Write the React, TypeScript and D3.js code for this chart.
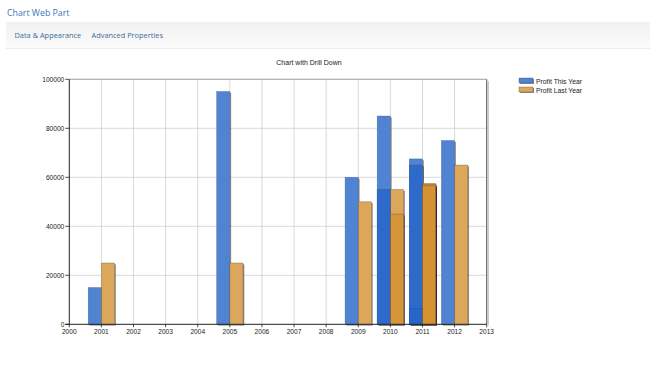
import React from "react";
import * as d3 from "d3";

const years = [2001, 2005, 2009, 2010, 2010, 2011, 2011, 2011, 2012];
const profitThisYear = [15000, 95000, 60000, 85000, 55000, 67500, 65000, 6500, 75000];
const profitLastYear = [25000, 25000, 50000, 55000, 45000, 57500, 57000, 56500, 65000];
const seriesNames = ["Profit This Year", "Profit Last Year"];
const xTicks = d3.range(2000, 2014);
const yTicks = [0, 20000, 40000, 60000, 80000, 100000];

const W = 650, H = 383;
const left = 69.3, right = 486.7, top = 79.3, bottom = 324.3;

export default function App() {
  const x = d3.scaleLinear().domain([2000, 2013]).range([left, right]);
  const y = d3.scaleLinear().domain([0, 100000]).range([bottom, top]);
  const step = x(2001) - x(2000);
  const bw = step * 0.41;
  const blue = "rgb(38,100,200)";
  const orange = "rgb(212,145,50)";
  const op = 0.8;
  const lab = { fontFamily: "'Liberation Sans', Arial, sans-serif", fontSize: 6.6, fill: "#222" };

  const bars: any[] = [];
  years.forEach((yr, i) => {
    [profitThisYear[i], profitLastYear[i]].forEach((v, s) => {
      const x0 = s === 0 ? x(yr) - bw : x(yr);
      bars.push({ x0, v, s, key: `${i}-${s}` });
    });
  });

  return (
    <svg width={W} height={H} style={{ position: "absolute", left: 0, top: 0, background: "#fff" }}>
      <defs>
        <linearGradient id="band" x1="0" y1="0" x2="0" y2="1">
          <stop offset="0" stopColor="#f1f1f1" />
          <stop offset="1" stopColor="#fbfbfb" />
        </linearGradient>
      </defs>
      <text x={7} y={16} fontFamily="'Open Sans', sans-serif" fontSize={8.8} fill="#3a78b8">Chart Web Part</text>
      <rect x={6} y={22} width={644} height={26} fill="url(#band)" />
      <line x1={6} x2={650} y1={48.5} y2={48.5} stroke="#ececec" />
      <text x={14.5} y={38} fontFamily="'Open Sans', sans-serif" fontSize={7.4} fill="#3d6c96">Data &amp; Appearance</text>
      <text x={91.5} y={38} fontFamily="'Open Sans', sans-serif" fontSize={7.4} fill="#3d6c96">Advanced Properties</text>

      <text x={309} y={65} textAnchor="middle" {...lab} fontSize={7}>Chart with Drill Down</text>

      {/* grid */}
      {xTicks.slice(1, -1).map((t) => (
        <line key={"gx" + t} x1={x(t)} x2={x(t)} y1={top} y2={bottom} stroke="#cfcfcf" strokeWidth={0.8} />
      ))}
      {yTicks.slice(1).map((t) => (
        <line key={"gy" + t} x1={left} x2={right} y1={y(t)} y2={y(t)} stroke="#cfcfcf" strokeWidth={0.8} />
      ))}
      <line x1={left} x2={right} y1={top} y2={top} stroke="#9a9a9a" strokeWidth={0.8} />
      <line x1={right + 1.5} x2={right + 1.5} y1={top + 2} y2={bottom + 1} stroke="#bbb" strokeWidth={1.2} />
      <line x1={right} x2={right} y1={top} y2={bottom} stroke="#555" strokeWidth={1} />

      {/* bars: shadows, white underlay, then translucent fills */}
      {bars.map((b) => (
        <rect key={"sh" + b.key} x={b.x0 + 1.3} y={y(b.v) + 1.3} width={bw} height={bottom - y(b.v)} fill="#000" opacity={0.45} />
      ))}
      {bars.map((b) => (
        <rect key={"wh" + b.key} x={b.x0} y={y(b.v)} width={bw} height={bottom - y(b.v)} fill="#fff" />
      ))}
      {bars.map((b) => (
        <rect key={b.key} x={b.x0} y={y(b.v)} width={bw} height={bottom - y(b.v)}
          fill={b.s === 0 ? blue : orange} fillOpacity={op}
          stroke={b.s === 0 ? "#2a4f86" : "#5a4020"} strokeOpacity={0.55} strokeWidth={0.6} />
      ))}

      {/* axes */}
      <line x1={left} x2={left} y1={top} y2={bottom} stroke="#222" strokeWidth={1} />
      <line x1={left - 4} x2={right} y1={bottom} y2={bottom} stroke="#222" strokeWidth={1} />
      {yTicks.map((t) => (
        <g key={"yt" + t}>
          <line x1={left - 4} x2={left} y1={y(t)} y2={y(t)} stroke="#222" strokeWidth={0.8} />
          <text x={left - 5} y={y(t) + 2.3} textAnchor="end" {...lab}>{t}</text>
        </g>
      ))}
      {xTicks.map((t) => (
        <g key={"xt" + t}>
          <line x1={x(t)} x2={x(t)} y1={bottom} y2={bottom + 3} stroke="#222" strokeWidth={0.8} />
          <text x={x(t)} y={bottom + 10} textAnchor="middle" {...lab}>{t}</text>
        </g>
      ))}

      {/* legend */}
      {seriesNames.map((n, i) => (
        <g key={n}>
          <rect x={520} y={79 + i * 9} width={14} height={5} fill="#000" opacity={0.45} />
          <rect x={519} y={78 + i * 9} width={14} height={5} fill="#fff" />
          <rect x={519} y={78 + i * 9} width={14} height={5} fill={i === 0 ? blue : orange} fillOpacity={op}
            stroke={i === 0 ? "#2a4f86" : "#5a4020"} strokeOpacity={0.55} strokeWidth={0.6} />
          <text x={536} y={83.5 + i * 9} {...lab} fontSize={6.8}>{n}</text>
        </g>
      ))}
    </svg>
  );
}
